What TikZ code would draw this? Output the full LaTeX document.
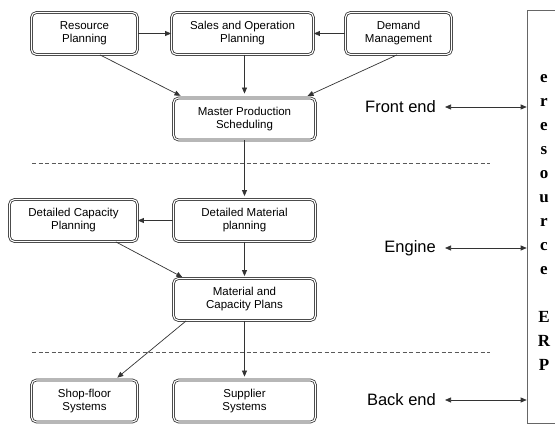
\documentclass[tikz,border=0pt]{standalone}
\usepackage{fontspec}
\setmainfont{Liberation Sans}
\newfontfamily\erpfont{Liberation Serif}
\usetikzlibrary{arrows.meta}
\newcommand*{\wsm}{106pt}
\newcommand*{\wlg}{142pt}
\newcommand*{\hbx}{42pt}
\newcommand*{\lblx}{436}
\tikzset{
    blk/.style={draw=black!80, double=white, double distance=1.1pt, line width=0.8pt,
        rounded corners=5pt, align=center, minimum height=\hbx, inner sep=2pt,
        font=\fontsize{11.5}{13}\selectfont},
    conn/.style={draw=black!80, line width=0.7pt, -{Triangle[length=6pt,width=5pt]}},
    bidir/.style={draw=black!80, line width=0.7pt,
        {Triangle[length=6pt,width=5pt]}-{Triangle[length=6pt,width=5pt]}},
    side/.style={anchor=east, inner sep=0pt, font=\fontsize{16.5}{18}\selectfont},
    sep/.style={draw=black!65, line width=0.6pt, dash pattern=on 4pt off 2.5pt},
}
\begin{document}
\begin{tikzpicture}[x=1pt, y=-1pt]
    \useasboundingbox (0,0) rectangle (555,425);
    % planning boxes
    \node [blk, minimum width=\wsm] (rp)  at ( 84.5, 33.5) {Resource\\Planning};
    \node [blk, minimum width=\wlg] (sop) at (242.5, 33.5) {Sales and Operation\\Planning};
    \node [blk, minimum width=\wsm] (dm)  at (398.5, 33.5) {Demand\\Management};
    \node [blk, minimum width=\wlg] (mps) at (244.5,119.0) {Master Production\\Scheduling};
    \node [blk, minimum width=128pt] (dcp) at ( 73.5,220.5) {Detailed Capacity\\Planning};
    \node [blk, minimum width=\wlg] (dmp) at (244.5,220.5) {Detailed Material\\planning};
    \node [blk, minimum width=\wlg] (mcp) at (244.5,299.5) {Material and\\Capacity Plans};
    \node [blk, minimum width=\wsm] (sfs) at ( 84.5,401.0) {Shop-floor\\Systems};
    \node [blk, minimum width=\wlg] (ss)  at (244.5,401.0) {Supplier\\Systems};
    % ERP column
    \node [draw=black!60, line width=0.6pt, minimum width=40pt, minimum height=413pt] (erp) at (547,216.5) {};
    \node [align=center, font=\erpfont\bfseries\fontsize{17}{24}\selectfont] (erptxt) at (544,223)
        {e\\r\\e\\s\\o\\u\\r\\c\\e\\[24pt]E\\R\\P};
    % layers
    \draw [sep] (32,163) -- (490,163);
    \draw [sep] (32,352) -- (490,352);
    \node [side] (fe) at (\lblx,107) {Front end};
    \node [side] (en) at (\lblx,248) {Engine};
    \node [side] (be) at (\lblx,400) {Back end};
    \draw [bidir] ([xshift=9pt]fe.east) -- (fe.east -| erp.west);
    \draw [bidir] ([xshift=9pt]en.east) -- (en.east -| erp.west);
    \draw [bidir] ([xshift=9pt]be.east) -- (be.east -| erp.west);
    % flows
    \draw [conn] (rp.east) -- (sop.west);
    \draw [conn] (dm.west) -- (sop.east);
    \draw [conn, shorten >=4pt] ([xshift=15.5pt]rp.south) -- ([xshift=11pt]mps.north west);
    \draw [conn, shorten >=4pt] (mps.north |- sop.south) -- (mps.north);
    \draw [conn, shorten >=4pt] ([xshift=-1.5pt]dm.south) -- ([xshift=-12pt]mps.north east);
    \draw [conn, shorten >=3pt] (mps.south) -- (dmp.north);
    \draw [conn] (dmp.west) -- (dcp.east);
    \draw [conn, shorten >=2pt] ([xshift=-22pt]dcp.south east) -- ([xshift=11pt]mcp.north west);
    \draw [conn, shorten >=2pt] (dmp.south) -- (mcp.north);
    \draw [conn, shorten >=3pt] ([xshift=13pt]mcp.south west) -- ([xshift=30.5pt]sfs.north);
    \draw [conn, shorten >=3pt] (mcp.south) -- (ss.north);
\end{tikzpicture}
\end{document}
